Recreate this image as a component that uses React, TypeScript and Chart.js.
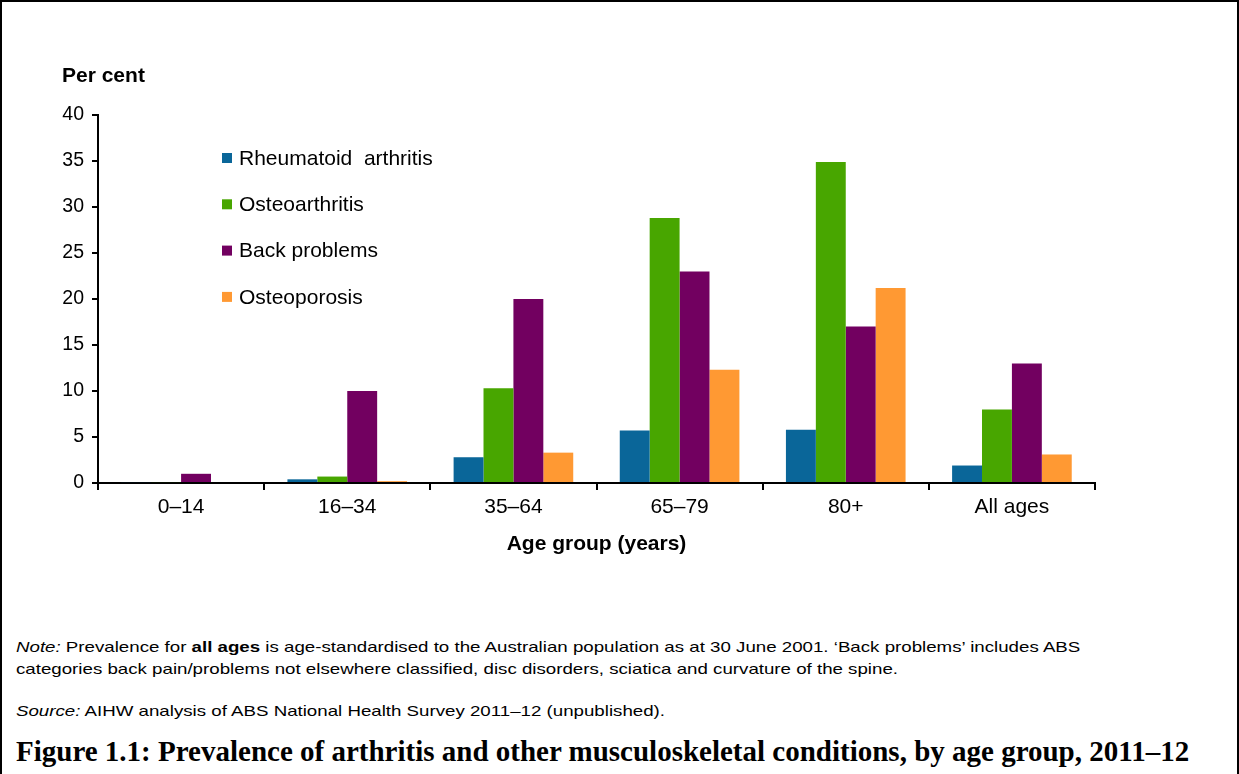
import React, { useEffect, useRef } from "react";
import { Chart, registerables } from "chart.js";

Chart.register(...registerables);

const categories = ["0–14", "16–34", "35–64", "65–79", "80+", "All ages"];
const rheumatoid = [0.1, 0.4, 2.8, 5.7, 5.8, 1.9];
const osteoarthritis = [0.1, 0.7, 10.3, 28.8, 34.9, 8.0];
const backProblems = [1.0, 10.0, 20.0, 23.0, 17.0, 13.0];
const osteoporosis = [0.0, 0.2, 3.3, 12.3, 21.2, 3.1];
const seriesNames = ["Rheumatoid  arthritis", "Osteoarthritis", "Back problems", "Osteoporosis"];
const seriesColors = ["#0a6699", "#48a600", "#720060", "#ff9933"];

const FONT = "Arial, 'Liberation Sans', sans-serif";

const legendPlugin = {
  id: "insideLegend",
  afterDraw(chart: any) {
    const { ctx, chartArea } = chart;
    ctx.save();
    ctx.font = `21px ${FONT}`;
    ctx.textBaseline = "middle";
    chart.data.datasets.forEach((ds: any, i: number) => {
      const y = chartArea.top + 43 + i * 46.3;
      const x = chartArea.left + 124;
      ctx.fillStyle = ds.backgroundColor;
      ctx.fillRect(x, y - 5, 10, 10);
      ctx.fillStyle = "#000";
      ctx.fillText(ds.label, x + 17, y + 1);
    });
    ctx.restore();
  },
};

export default function App() {
  const ref = useRef<HTMLCanvasElement>(null);
  useEffect(() => {
    const seriesData = [rheumatoid, osteoarthritis, backProblems, osteoporosis];
    const chart = new Chart(ref.current!, {
      type: "bar",
      data: {
        labels: categories,
        datasets: seriesNames.map((name, i) => ({
          label: name,
          data: seriesData[i],
          backgroundColor: seriesColors[i],
          borderWidth: 0,
          categoryPercentage: 0.72,
          barPercentage: 1.0,
        })),
      },
      options: {
        animation: false,
        responsive: false,
        maintainAspectRatio: false,
        layout: { padding: { left: 30, right: 144, top: 115, bottom: 37 } },
        plugins: { legend: { display: false }, tooltip: { enabled: false } },
        scales: {
          x: {
            grid: { drawOnChartArea: false, drawTicks: true, tickLength: 7, color: "#000", lineWidth: 2, offset: true },
            border: { color: "#000", width: 2 },
            ticks: { color: "#000", font: { family: FONT, size: 21 }, padding: 5 },
            title: { display: true, text: "Age group (years)", color: "#000", font: { family: FONT, size: 21, weight: "bold" }, padding: { top: 0, bottom: 6 } },
            afterFit(scale: any) { scale.height = 80; },
          },
          y: {
            min: 0,
            max: 40,
            ticks: { stepSize: 5, color: "#000", font: { family: FONT, size: 19.5 }, padding: 8 },
            grid: { drawOnChartArea: false, drawTicks: true, tickLength: 6, color: "#000", lineWidth: 2 },
            border: { color: "#000", width: 2 },
            afterFit(scale: any) { scale.width = 68; },
          },
        },
      },
      plugins: [legendPlugin],
    });
    return () => chart.destroy();
  }, []);

  const noteStyle: React.CSSProperties = {
    position: "absolute",
    left: 14,
    font: `15px ${FONT}`,
    lineHeight: "22px",
    color: "#000",
    whiteSpace: "nowrap",
    transform: "scaleX(1.246)",
    transformOrigin: "left top",
  };

  return (
    <div style={{ position: "fixed", left: 0, top: 0, width: 1239, height: 774, background: "#fff", boxSizing: "border-box", borderTop: "2px solid #000", borderLeft: "2px solid #000", borderRight: "2px solid #000", overflow: "hidden" }}>
      <canvas ref={ref} width={1239} height={600} style={{ position: "absolute", left: -2, top: -2, width: 1239, height: 600 }} />
      <div style={{ position: "absolute", left: 60, top: 61, font: `bold 21px ${FONT}`, color: "#000" }}>Per cent</div>
      <div style={{ ...noteStyle, top: 634 }}>
        <i>Note:</i> Prevalence for <b>all ages</b> is age-standardised to the Australian population as at 30 June 2001. ‘Back problems’ includes ABS
        <br />
        categories back pain/problems not elsewhere classified, disc disorders, sciatica and curvature of the spine.
      </div>
      <div style={{ ...noteStyle, top: 698 }}>
        <i>Source:</i> AIHW analysis of ABS National Health Survey 2011–12 (unpublished).
      </div>
      <div style={{ position: "absolute", left: 14, top: 733, font: `bold 29px 'Liberation Serif', 'DejaVu Serif', serif`, lineHeight: "32px", color: "#000", whiteSpace: "nowrap" }}>
        Figure 1.1: Prevalence of arthritis and other musculoskeletal conditions, by age group, 2011–12
      </div>
    </div>
  );
}
